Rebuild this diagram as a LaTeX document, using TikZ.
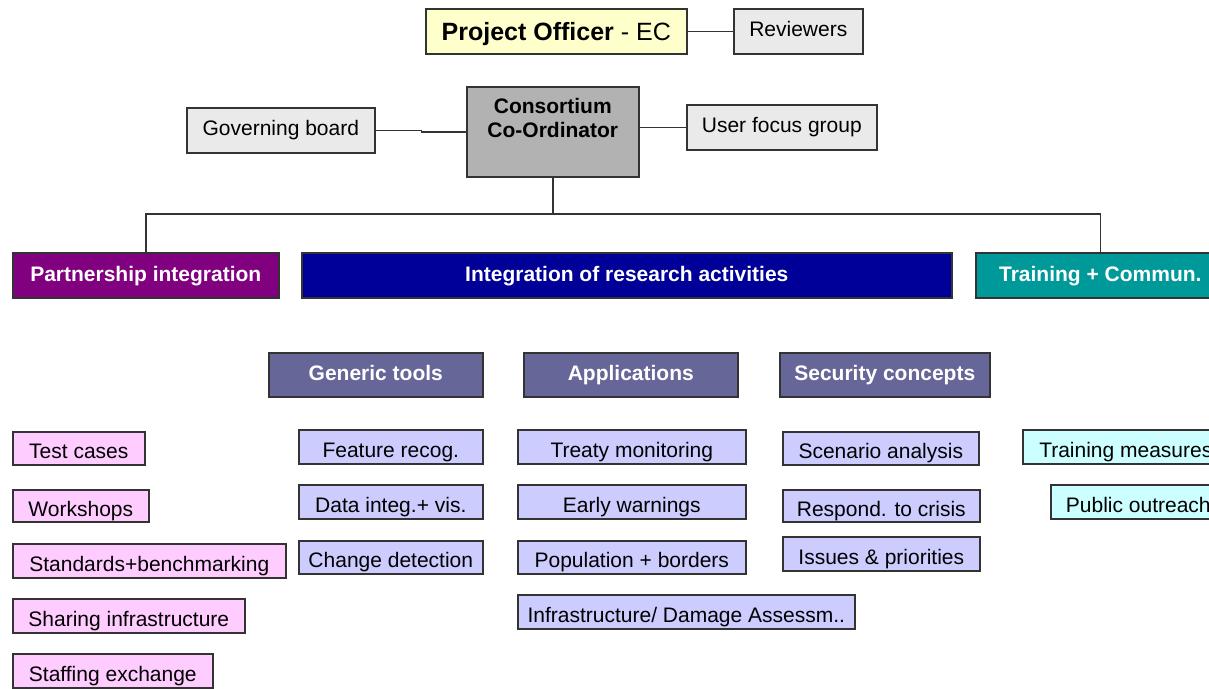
\documentclass[tikz,border=0pt]{standalone}
\usepackage{fontspec}
\setmainfont{Liberation Sans}
\definecolor{lineclr}{HTML}{333333}
\definecolor{yellowfill}{HTML}{FFFFCC}
\definecolor{greyfill}{HTML}{EAEAEA}
\definecolor{coordfill}{HTML}{B2B2B2}
\definecolor{purplefill}{HTML}{800080}
\definecolor{navyfill}{HTML}{000099}
\definecolor{tealfill}{HTML}{009999}
\definecolor{slatefill}{HTML}{666699}
\definecolor{pinkfill}{HTML}{FFCCFF}
\definecolor{lavfill}{HTML}{CCCCFF}
\definecolor{cyanfill}{HTML}{CCFFFF}
\tikzset{
    box/.style={draw=lineclr, line width=1.6pt, anchor=north west, inner sep=0pt, font=\fontsize{21}{24}\selectfont},
    item/.style={box, minimum height=33pt, text height=22pt, text depth=1pt},
    pinkbox/.style={item, fill=pinkfill},
    lavbox/.style={item, fill=lavfill},
    cyanbox/.style={item, fill=cyanfill},
    greybox/.style={box, fill=greyfill, minimum height=45pt, text height=15pt, text depth=4pt},
    headbox/.style={box, text=white, font=\fontsize{21}{24}\selectfont\bfseries, minimum height=45pt, text height=16pt, text depth=4pt},
    wire/.style={draw=lineclr, line width=1.5pt},
}
\begin{document}
\begin{tikzpicture}[x=1pt, y=-1pt]
        \useasboundingbox (0, 0) rectangle (1209, 688);
        \clip (0, 0) rectangle (1209, 688);

        % top of the organisation
        \node[box, fill=yellowfill, minimum width=261pt, minimum height=45pt, text height=22pt, text depth=3pt, font=\fontsize{25}{30}\selectfont] (officer) at(425, 8){\textbf{Project Officer} - EC};
        \node[greybox, minimum width=129pt] (reviewers) at(733, 8){Reviewers};
        \node[box, fill=coordfill, minimum width=172pt, minimum height=90pt,
            label={[anchor=north, yshift=-12pt, align=center, inner sep=0pt, font=\fontsize{21}{24}\selectfont\bfseries]north:{Consortium\\Co-Ordinator}}] (coord) at(466, 86){};
        \node[greybox, minimum width=188pt] (board) at(186, 107){Governing board};
        \node[greybox, minimum width=190pt] (users) at(686, 104){User focus group};

        \draw[wire] (officer.east) -- (reviewers.west);
        \draw[wire] (board.east) -- ++(46, 0) |- (coord.west);
        \draw[wire] (users.west -| coord.east) -- (users.west);

        % work packages
        \node[headbox, fill=purplefill, minimum width=266pt] (partner) at(12, 252){Partnership integration};
        \node[headbox, fill=navyfill, minimum width=650pt] (research) at(301, 252){Integration of research activities};
        \node[headbox, fill=tealfill, minimum width=249pt] (training) at(975, 252){Training + Commun.};

        \coordinate (bus) at(coord.south |- 0, 214);
        \draw[wire] (coord.south) -- (bus);
        \draw[wire] (partner.north) |- (bus) -| (training.north);

        \node[headbox, fill=slatefill, minimum width=214pt, minimum height=44pt] (generic) at(268, 352){Generic tools};
        \node[headbox, fill=slatefill, minimum width=214pt, minimum height=44pt] (apps) at(523, 352){Applications};
        \node[headbox, fill=slatefill, minimum width=210pt, minimum height=44pt] (security) at(779, 352){Security concepts};

        % partnership items
        \node[pinkbox, minimum width=132pt] (tests) at(12, 431){Test cases};
        \node[pinkbox, minimum width=136pt, minimum height=32pt] (workshops) at(12, 489){Workshops};
        \node[pinkbox, minimum width=273pt, minimum height=34pt] (standards) at(12, 543){Standards+benchmarking};
        \node[pinkbox, minimum width=232pt, minimum height=34pt] (sharing) at(12, 598){Sharing infrastructure};
        \node[pinkbox, minimum width=200pt, minimum height=34pt] (staffing) at(12, 653){Staffing exchange};

        % generic tools
        \node[lavbox, minimum width=184pt, minimum height=34pt] (feature) at(298, 429){Feature recog.};
        \node[lavbox, minimum width=184pt, minimum height=34pt] (datavis) at(298, 484){Data integ.+ vis.};
        \node[lavbox, minimum width=184pt] (change) at(298, 540){Change detection};

        % applications
        \node[lavbox, minimum width=228pt, minimum height=34pt] (treaty) at(517, 429){Treaty monitoring};
        \node[lavbox, minimum width=228pt, minimum height=34pt] (warnings) at(517, 484){Early warnings};
        \node[lavbox, minimum width=228pt] (borders) at(517, 540){Population + borders};
        \node[lavbox, minimum width=337pt, minimum height=34pt] (damage) at(517, 594){Infrastructure/ Damage Assessm..};

        % security concepts
        \node[lavbox, minimum width=196pt] (scenario) at(782, 431){Scenario analysis};
        \node[lavbox, minimum width=197pt, minimum height=32pt] (crisis) at(782, 489){Respond. to crisis};
        \node[lavbox, minimum width=197pt, minimum height=34pt] (issues) at(782, 536){Issues \& priorities};

        % training
        \node[cyanbox, minimum width=206pt, minimum height=34pt] (measures) at(1022, 429){Training measures};
        \node[cyanbox, minimum width=175pt, minimum height=34pt] (outreach) at(1050, 484){Public outreach};
    \end{tikzpicture}
\end{document}
